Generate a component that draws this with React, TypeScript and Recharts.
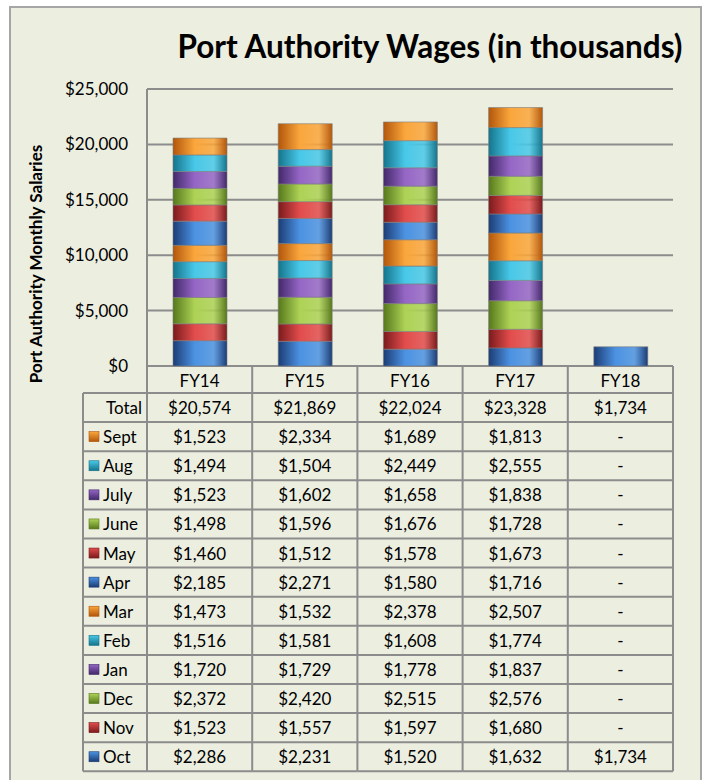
import React from 'react';
import { BarChart, Bar, XAxis, YAxis, CartesianGrid } from 'recharts';

const categories = ['FY14', 'FY15', 'FY16', 'FY17', 'FY18'];
const months = ['Oct', 'Nov', 'Dec', 'Jan', 'Feb', 'Mar', 'Apr', 'May', 'June', 'July', 'Aug', 'Sept'];

const oct = [2286, 2231, 1520, 1632, 1734];
const nov = [1523, 1557, 1597, 1680, null];
const dec = [2372, 2420, 2515, 2576, null];
const jan = [1720, 1729, 1778, 1837, null];
const feb = [1516, 1581, 1608, 1774, null];
const mar = [1473, 1532, 2378, 2507, null];
const apr = [2185, 2271, 1580, 1716, null];
const may = [1460, 1512, 1578, 1673, null];
const june = [1498, 1596, 1676, 1728, null];
const july = [1523, 1602, 1658, 1838, null];
const aug = [1494, 1504, 2449, 2555, null];
const sept = [1523, 2334, 1689, 1813, null];
const totals = [20574, 21869, 22024, 23328, 1734];

const yTicks = [0, 5000, 10000, 15000, 20000, 25000];

const series = [oct, nov, dec, jan, feb, mar, apr, may, june, july, aug, sept];

// dark edge / light center for the cylinder look (Excel 2007 palette, repeats every 6)
const palette = [
  ['#1c3c74', '#4b92e2'],
  ['#7a1a1c', '#e24c4c'],
  ['#56781c', '#add255'],
  ['#42286a', '#9566c6'],
  ['#14748c', '#48c8e8'],
  ['#b2560a', '#faa63c'],
];

const data = categories.map((name, i) => {
  const row: any = { name, total: totals[i] };
  months.forEach((m, j) => { row[m] = series[j][i]; });
  return row;
});

const W = 705;
const H = 780;
const PLOT_LEFT = 147;
const PLOT_RIGHT = 673;
const PLOT_TOP = 89;
const PLOT_BOTTOM = 366;
const COL_W = (PLOT_RIGHT - PLOT_LEFT) / categories.length;
const HEAD_H = 27;
const ROW_H = 29.1;
const LABEL_LEFT = 83;
const GRID = '#8c8c8c';
const FONT = 'Lato, "Open Sans", sans-serif';
const FS = 17;

const money = (v: number | null) => (v == null ? '-' : '$' + v.toLocaleString('en-US'));

// table rows top to bottom: Total, then months reversed
const tableRows = ['Total', ...months.slice().reverse()];

const colorOf = (m: string) => palette[months.indexOf(m) % 6];

const TableColumn = (props: any) => {
  const { x, payload, index } = props;
  const left = x - COL_W / 2;
  const bodyTop = PLOT_BOTTOM + HEAD_H;
  const bottom = bodyTop + ROW_H * tableRows.length;
  const d = data[index];
  return (
    <g fontFamily={FONT} fontSize={FS} fill="#000">
      {index === 0 && (
        <g>
          <line x1={LABEL_LEFT} x2={left} y1={bodyTop} y2={bodyTop} stroke={GRID} strokeWidth={2} />
          <line x1={LABEL_LEFT} x2={LABEL_LEFT} y1={bodyTop} y2={bottom} stroke={GRID} strokeWidth={2} />
          <line x1={left} x2={left} y1={PLOT_BOTTOM} y2={bottom} stroke={GRID} strokeWidth={2} />
          {tableRows.map((r, k) => {
            const cy = bodyTop + ROW_H * (k + 0.5);
            const rowLine = (
              <line key={'l' + r} x1={LABEL_LEFT} x2={left} y1={bodyTop + ROW_H * (k + 1)} y2={bodyTop + ROW_H * (k + 1)} stroke={GRID} strokeWidth={2} />
            );
            if (r === 'Total') {
              return (
                <g key={r}>
                  {rowLine}
                  <text x={left - 5} y={cy} textAnchor="end" dominantBaseline="central">{r}</text>
                </g>
              );
            }
            const c = colorOf(r);
            return (
              <g key={r}>
                {rowLine}
                <rect x={89} y={cy - 5} width={10} height={10} fill={`url(#k-${months.indexOf(r) % 6})`} stroke={c[0]} strokeWidth={0.6} />
                <text x={103} y={cy} dominantBaseline="central">{r}</text>
              </g>
            );
          })}
        </g>
      )}
      <line x1={left + COL_W} x2={left + COL_W} y1={PLOT_BOTTOM} y2={bottom} stroke={GRID} strokeWidth={2} />
      <line x1={left} x2={left + COL_W} y1={bodyTop} y2={bodyTop} stroke={GRID} strokeWidth={2} />
      <text x={x} y={PLOT_BOTTOM + HEAD_H / 2 + 1} textAnchor="middle" dominantBaseline="central">{payload.value}</text>
      {tableRows.map((r, k) => {
        const cy = bodyTop + ROW_H * (k + 0.5);
        const v = r === 'Total' ? d.total : d[r];
        return (
          <g key={r}>
            <line x1={left} x2={left + COL_W} y1={bodyTop + ROW_H * (k + 1)} y2={bodyTop + ROW_H * (k + 1)} stroke={GRID} strokeWidth={2} />
            <text x={x} y={cy} textAnchor="middle" dominantBaseline="central">{money(v)}</text>
          </g>
        );
      })}
    </g>
  );
};

export default function App() {
  return (
    <div style={{ position: 'absolute', left: 0, top: 0, width: W, height: H, background: '#fff', overflow: 'hidden' }}>
      <div style={{ position: 'absolute', left: 9, top: 6, width: 689, height: 800, border: '2px solid #a6a6a6', background: '#eceee0' }} />
      <svg width={W} height={110} style={{ position: 'absolute', left: 0, top: 0 }}>
        <text x={430} y={58} textAnchor="middle" fontFamily={FONT} fontWeight={700} fontSize={31.5} fill="#000">
          Port Authority Wages (in thousands)
        </text>
      </svg>
      <svg width={80} height={H} style={{ position: 'absolute', left: 0, top: 0 }}>
        <text x={42} y={264} textAnchor="middle" transform="rotate(-90 42 264)" fontFamily={FONT} fontWeight={700} fontSize={17} fill="#000">
          Port Authority Monthly Salaries
        </text>
      </svg>
      <div style={{ position: 'absolute', left: 0, top: 0 }}>
        <BarChart width={W} height={H} data={data} margin={{ top: PLOT_TOP, right: W - PLOT_RIGHT, left: 0, bottom: 0 }} barSize={54}>
          <defs>
            {palette.map((c, i) => (
              <linearGradient key={'g' + i} id={`g-${i}`} x1="0" y1="0" x2="1" y2="0">
                <stop offset="0%" stopColor={c[0]} />
                <stop offset="40%" stopColor={c[1]} />
                <stop offset="75%" stopColor={c[1]} stopOpacity={0.85} />
                <stop offset="100%" stopColor={c[0]} />
              </linearGradient>
            ))}
            {palette.map((c, i) => (
              <linearGradient key={'k' + i} id={`k-${i}`} x1="0" y1="0" x2="0" y2="1">
                <stop offset="0%" stopColor={c[1]} />
                <stop offset="100%" stopColor={c[0]} />
              </linearGradient>
            ))}
          </defs>
          <CartesianGrid vertical={false} stroke={GRID} strokeWidth={2} />
          <YAxis
            width={PLOT_LEFT}
            domain={[0, 25000]}
            ticks={yTicks}
            tickFormatter={(v: number) => '$' + v.toLocaleString('en-US')}
            tick={{ fontSize: FS, fill: '#000', fontFamily: FONT }}
            tickLine={false}
            tickSize={0}
            tickMargin={19}
            axisLine={{ stroke: GRID, strokeWidth: 2 }}
          />
          <XAxis
            dataKey="name"
            height={H - PLOT_BOTTOM}
            axisLine={false}
            tickLine={false}
            interval={0}
            tick={<TableColumn />}
          />
          {months.map((m, j) => (
            <Bar
              key={m}
              dataKey={m}
              stackId="a"
              fill={`url(#g-${j % 6})`}
              stroke="#7d7d7d"
              strokeWidth={0.6}
              isAnimationActive={false}
            />
          ))}
        </BarChart>
      </div>
    </div>
  );
}
